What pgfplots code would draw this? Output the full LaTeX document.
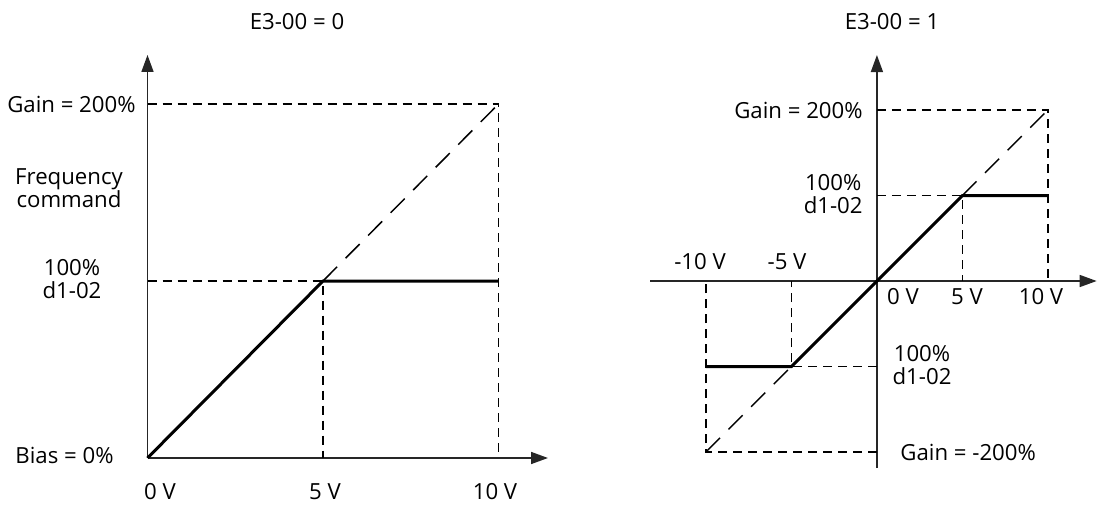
\documentclass[border=0pt]{standalone}
\usepackage{fontspec}
\setmainfont{Open Sans}
\usepackage{pgfplots}
\pgfplotsset{compat=1.18}
\usetikzlibrary{arrows.meta}
\begin{document}
\fontsize{11.1}{11.8}\selectfont
\begin{tikzpicture}
\useasboundingbox (0,0) rectangle (548.5pt,252pt);
\pgfplotsset{
  diag/.style={
    axis lines=middle, scale only axis, enlargelimits=false, clip=false,
    xtick=\empty, ytick=\empty,
    axis line style={-{Triangle[length=8.5pt,width=6pt]}, line width=0.8pt, black!85},
  },
  guide/.style={black, line width=0.8pt, dash pattern=on 4.5pt off 3pt},
  dguide/.style={black, line width=0.75pt, dash pattern=on 10pt off 6pt},
  main/.style={black, line width=1.5pt},
}
% Left chart: origin at pixel (147.5,458)
\begin{axis}[diag, at={(73.75pt,23pt)}, anchor=south west,
  x=17.55pt, y=0.885pt, xmin=0, xmax=11.41, ymin=0, ymax=227.7]
\addplot[guide] coordinates {(0,200) (10,200) (10,0)};
\addplot[guide] coordinates {(0,100) (5,100) (5,0)};
\addplot[dguide] coordinates {(5,100) (10,200)};
\addplot[main] coordinates {(0,0) (5,100) (10,100)};
\end{axis}
% Right chart: (xmin,ymin) at pixel (650,468)
\begin{axis}[diag, at={(325pt,18pt)}, anchor=south west,
  x=8.55pt, y=0.4275pt, xmin=-13.27, xmax=12.85, ymin=-218.7, ymax=264.3]
\addplot[guide] coordinates {(0,200) (10,200) (10,0)};
\addplot[guide] coordinates {(0,100) (5,100) (5,0)};
\addplot[guide] coordinates {(0,-100) (-5,-100) (-5,0)};
\addplot[guide] coordinates {(0,-200) (-10,-200) (-10,0)};
\addplot[dguide] coordinates {(5,100) (10,200)};
\addplot[dguide] coordinates {(-10,-200) (-5,-100)};
\addplot[main] coordinates {(-10,-100) (-5,-100) (5,100) (10,100)};
\end{axis}
\begin{scope}[x=0.5pt, y=-0.5pt, shift={(0,252pt)}]
% left texts
\node[inner sep=0pt] at (297,22) {E3-00 = 0};
\node[anchor=east, inner sep=0pt] at (136,104) {Gain = 200\%};
\node[align=center, inner sep=0pt] at (69,188) {Frequency\\command};
\node[align=center, inner sep=0pt] at (72,279) {100\%\\d1-02};
\node[anchor=east, inner sep=0pt] at (114,455) {Bias = 0\%};
\node[inner sep=0pt] at (160,492) {0 V};
\node[inner sep=0pt] at (325,492) {5 V};
\node[inner sep=0pt] at (495,492) {10 V};
% right texts
\node[inner sep=0pt] at (892,22) {E3-00 = 1};
\node[anchor=east, inner sep=0pt] at (863,110) {Gain = 200\%};
\node[anchor=east, align=center, inner sep=0pt] at (863,194) {100\%\\d1-02};
\node[inner sep=0pt] at (700,262) {-10 V};
\node[inner sep=0pt] at (787,262) {-5 V};
\node[inner sep=0pt] at (903,297) {0 V};
\node[inner sep=0pt] at (967,297) {5 V};
\node[inner sep=0pt] at (1041,297) {10 V};
\node[align=center, inner sep=0pt] at (922,365) {100\%\\d1-02};
\node[anchor=west, inner sep=0pt] at (900,452) {Gain = -200\%};
\end{scope}
\end{tikzpicture}
\end{document}
